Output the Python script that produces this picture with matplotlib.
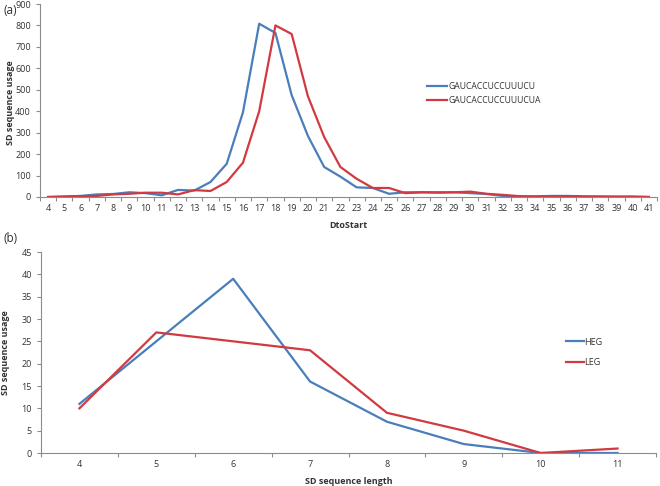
import matplotlib
matplotlib.use("Agg")
import matplotlib.pyplot as plt
import numpy as np

plt.rcParams['font.family'] = ['Open Sans', 'DejaVu Sans']

# Panel (a)
dto_start = list(range(4, 42))
usage_u = [0, 2, 5, 12, 14, 22, 18, 8, 33, 30, 70, 155, 395, 808, 765, 475, 285, 140,
           95, 45, 42, 15, 22, 22, 20, 22, 18, 14, 5, 2, 3, 5, 5, 3, 2, 2, 1, 0]
usage_ua = [0, 2, 4, 5, 12, 15, 20, 20, 12, 32, 28, 70, 160, 400, 800, 760, 470, 280,
            140, 85, 42, 42, 18, 22, 22, 22, 25, 15, 10, 4, 2, 3, 4, 2, 2, 1, 2, 0]
label_u = "GAUCACCUCCUUUCU"
label_ua = "GAUCACCUCCUUUCUA"

# Panel (b)
sd_length = [4, 5, 6, 7, 8, 9, 10, 11]
heg = [11, 25, 39, 16, 7, 2, 0, 0]
leg = [10, 27, 25, 23, 9, 5, 0, 1]

BLUE = "#4a7ebb"
RED = "#d03a40"
AX = "#8c8c8c"
TXT = "#333333"

W, H = 660, 486
fig = plt.figure(figsize=(W / 100, H / 100), dpi=100)


def frac(l, t, r, b):
    return [l / W, 1 - b / H, (r - l) / W, (b - t) / H]


def style(ax):
    for s in ("top", "right"):
        ax.spines[s].set_visible(False)
    for s in ("left", "bottom"):
        ax.spines[s].set_color(AX)
        ax.spines[s].set_linewidth(0.8)
    ax.tick_params(axis="both", colors=AX, labelcolor=TXT, labelsize=6.5,
                   length=3, width=0.8, direction="out")
    ax.tick_params(axis="x", length=0, pad=5)


# ---- (a)
ax1 = fig.add_axes(frac(40, 4, 657, 197))
ax1.plot(dto_start, usage_u, color=BLUE, lw=1.6, label=label_u)
ax1.plot(dto_start, usage_ua, color=RED, lw=1.6, label=label_ua)
ax1.set_xlim(dto_start[0] - 0.5, dto_start[-1] + 0.5)
ax1.set_ylim(0, 900)
ax1.set_yticks(np.arange(0, 901, 100))
ax1.set_xticks(dto_start)
ax1.set_xticks(np.arange(dto_start[0] - 0.5, dto_start[-1] + 1, 1), minor=True)
style(ax1)
ax1.tick_params(axis="x", which="minor", length=3, color=AX, width=0.8)
ax1.set_ylabel("SD sequence usage", fontsize=6.5, fontweight="bold", color=TXT,
               va="center")
ax1.yaxis.set_label_coords((11 - 40) / 617, 0.49)
ax1.set_xlabel("DtoStart", fontsize=6.5, fontweight="bold", color=TXT, labelpad=6)
ax1.legend(loc="upper left", bbox_to_anchor=((424 - 40) / 617, 1 - 75 / 193),
           frameon=False, fontsize=6.2, handlelength=2.3, handletextpad=0.1,
           labelspacing=0.55, borderaxespad=0, labelcolor=TXT)
fig.text(3 / W, 1 - 11 / H, "(a)", fontsize=8.5, color=TXT, va="center", ha="left")

# ---- (b)
ax2 = fig.add_axes(frac(41, 252, 656, 453))
ax2.plot(sd_length, heg, color=BLUE, lw=1.6, label="HEG")
ax2.plot(sd_length, leg, color=RED, lw=1.6, label="LEG")
ax2.set_xlim(sd_length[0] - 0.5, sd_length[-1] + 0.5)
ax2.set_ylim(0, 45)
ax2.set_yticks(np.arange(0, 46, 5))
ax2.set_xticks(sd_length)
ax2.set_xticks(np.arange(sd_length[0] - 0.5, sd_length[-1] + 1, 1), minor=True)
style(ax2)
ax2.tick_params(axis="x", which="minor", length=3, color=AX, width=0.8)
ax2.set_ylabel("SD sequence usage", fontsize=6.5, fontweight="bold", color=TXT,
               va="center")
ax2.yaxis.set_label_coords((6 - 41) / 615, 0.5)
ax2.set_xlabel("SD sequence length", fontsize=6.5, fontweight="bold", color=TXT, labelpad=6)
ax2.legend(loc="upper left", bbox_to_anchor=((562 - 41) / 615, 1 - (334 - 252) / 201),
           frameon=False, fontsize=6.5, handlelength=2.0, handletextpad=0.1,
           labelspacing=1.3, borderaxespad=0, labelcolor=TXT)
fig.text(3 / W, 1 - 238 / H, "(b)", fontsize=8.5, color=TXT, va="center", ha="left")

fig.savefig("out.png", dpi=100, facecolor="white")
